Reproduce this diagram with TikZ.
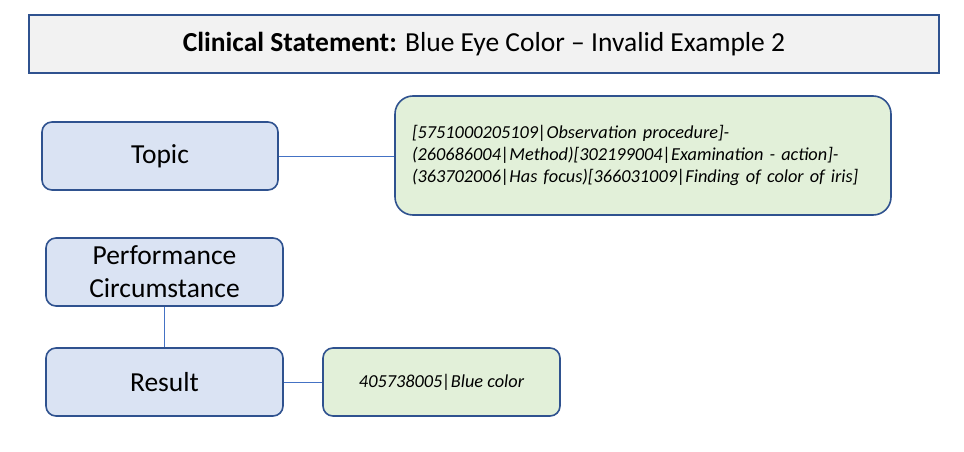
\documentclass[tikz,border=0pt]{standalone}
\usepackage{fontspec}
\setmainfont{Carlito}
\definecolor{edge}{HTML}{2F528F}
\definecolor{conn}{HTML}{4472C4}
\definecolor{titlefill}{HTML}{F2F2F2}
\definecolor{bluefill}{HTML}{DAE3F3}
\definecolor{greenfill}{HTML}{E2F0D9}
\tikzset{
  titlebox/.style={draw=edge, line width=2pt, fill=titlefill, minimum width=910pt, minimum height=58pt, inner sep=0pt, font=\fontsize{27.5}{32}\selectfont},
  bluebox/.style={draw=edge, line width=1.6pt, fill=bluefill, rounded corners=10pt, minimum width=236pt, minimum height=68pt, inner sep=0pt, align=center, font=\fontsize{27.5}{33}\selectfont},
  greenbox/.style={draw=edge, line width=1.6pt, fill=greenfill, rounded corners=10pt, inner sep=0pt, font=\fontsize{18.3}{21.8}\selectfont\itshape},
  conline/.style={draw=conn, line width=1pt}
}
\begin{document}
\begin{tikzpicture}[x=1pt,y=-1pt]
\useasboundingbox (0,0) rectangle (964,452);
\node[titlebox] (title) at (484,44) {\textbf{Clinical Statement:} Blue Eye Color – Invalid Example 2};
\node[bluebox] (topic) at (160,156) {Topic};
\node[bluebox, minimum width=237pt] (perf) at (164.5,272) {Performance\\Circumstance};
\node[bluebox, minimum width=237pt] (result) at (164.5,382) {Result};
\node[greenbox, rounded corners=18pt, minimum height=119pt, align=left, text width=462pt, inner xsep=17pt] (topicval) at (643,155.5) {[5751000205109|Observation procedure]-\\(260686004|Method)[302199004|Examination - action]-\\(363702006|Has focus)[366031009|Finding of color of iris]};
\node[greenbox, minimum width=237pt, minimum height=68pt, align=center] (resval) at (441.5,382) {405738005|Blue color};
\draw[conline] (topic.east) -- (topicval.west |- topic.east);
\draw[conline] (perf.south) -- (result.north);
\draw[conline] (result.east) -- (resval.west);
\end{tikzpicture}
\end{document}
